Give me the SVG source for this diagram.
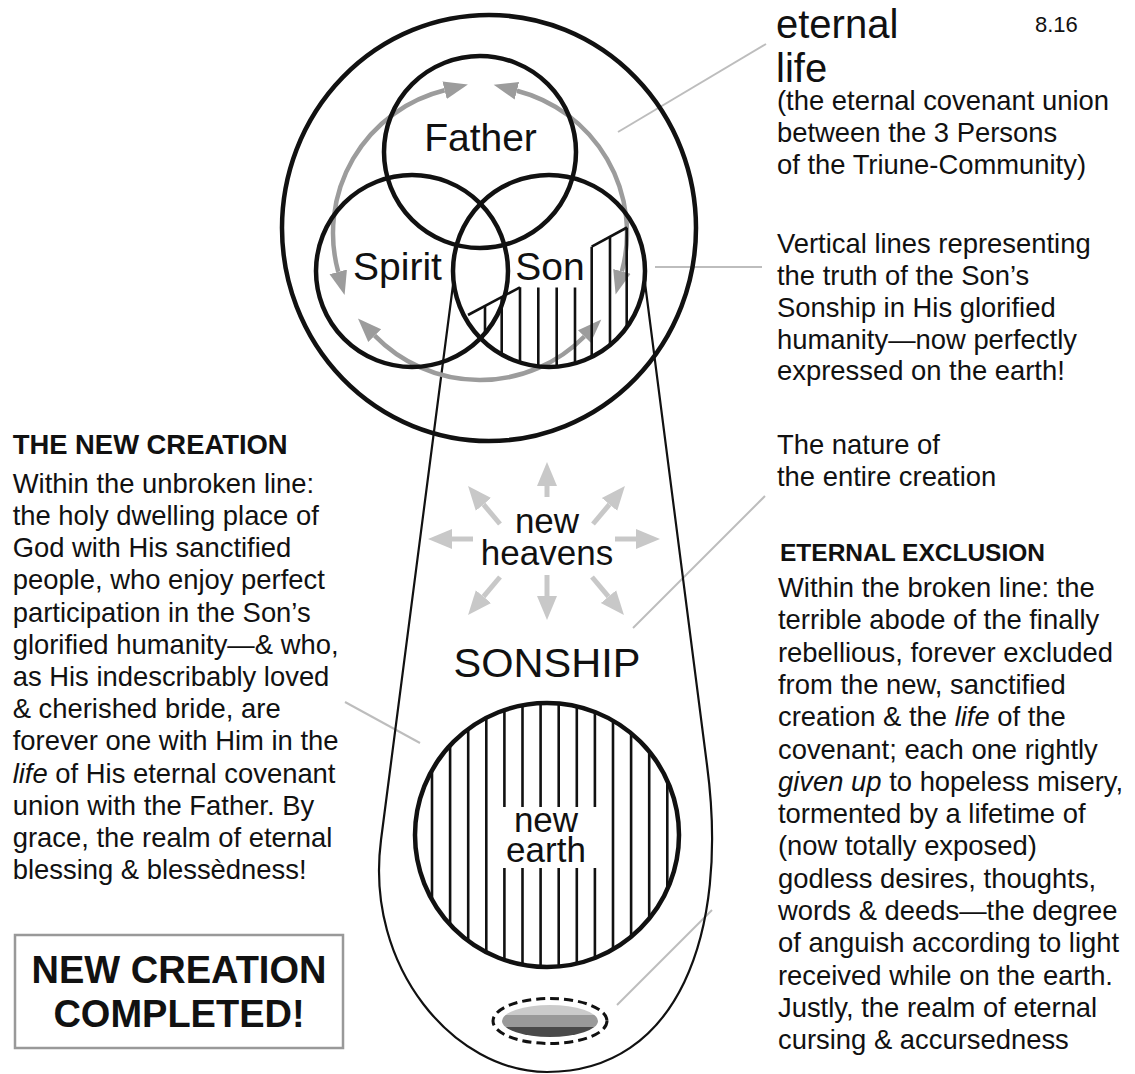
<svg xmlns="http://www.w3.org/2000/svg" width="1135" height="1074" viewBox="0 0 1135 1074">
<defs>
<style>
text{font-family:"Liberation Sans",Arial,Helvetica,sans-serif;fill:#111}
.ln{fill:none;stroke:#111}
.thick{stroke-width:4.5}
.hatch{stroke:#111;stroke-width:2.6}
.leader{stroke:#bdbdbd;stroke-width:2;fill:none}
.garc{fill:none;stroke:#9c9c9c;stroke-width:4.5;marker-start:url(#ga);marker-end:url(#ga)}
.rad{stroke:#c8c8c8;stroke-width:5;fill:none;marker-end:url(#la)}
.body{font-size:27.4px}
.big{font-size:39px}
.mid{font-size:35px}
.head{font-size:27.4px;font-weight:bold}
</style>
<marker id="ga" markerUnits="userSpaceOnUse" markerWidth="26" markerHeight="22" viewBox="0 -11 26 22" refX="0" refY="0" orient="auto-start-reverse"><path d="M0,-9 L24,0 L0,9 z" fill="#9c9c9c"/></marker>
<marker id="la" markerUnits="userSpaceOnUse" markerWidth="26" markerHeight="24" viewBox="0 -12 26 24" refX="0" refY="0" orient="auto"><path d="M0,-10 L24,0 L0,10 z" fill="#c8c8c8"/></marker>
<clipPath id="sonClip"><circle cx="549" cy="271" r="96"/></clipPath>
<clipPath id="earthClip"><circle cx="547" cy="835" r="132"/></clipPath>
<linearGradient id="band" x1="0" y1="0" x2="0" y2="1">
<stop offset="0" stop-color="#cbcbcb"/><stop offset="0.32" stop-color="#cbcbcb"/>
<stop offset="0.32" stop-color="#9a9a9a"/><stop offset="0.68" stop-color="#9a9a9a"/>
<stop offset="0.68" stop-color="#4a4a4a"/><stop offset="1" stop-color="#4a4a4a"/>
</linearGradient>
</defs>
<rect width="1135" height="1074" fill="#fff"/>

<g id="connectors">
<line class="leader" x1="618" y1="132" x2="766" y2="44"/>
<line class="leader" x1="655" y1="267" x2="762" y2="267"/>
<line class="leader" x1="633" y1="628" x2="765" y2="496"/>
<line class="leader" x1="345" y1="702" x2="420" y2="743"/>
<line class="leader" x1="617" y1="1005" x2="712" y2="910"/>
</g>

<g id="funnel">
<path class="ln" stroke-width="2.2" d="M453,285 L381,840 C364.4,968 455,1072 547,1072 C677,1072 729.6,935 707,765 L645,283"/>
</g>

<g id="eternal-life-circle">
<ellipse class="ln thick" cx="489" cy="228" rx="207" ry="213"/>
</g>

<g id="covenant-arcs">
<path class="garc" d="M338.25,271.9 A147,147 0 0 1 444.6,90.3"/>
<path class="garc" d="M516.9,90.7 A147,147 0 0 1 621.9,271.4"/>
<path class="garc" d="M584.4,336.5 A147,147 0 0 1 374.7,335.6"/>
</g>

<g id="son-hatch">
<line class="hatch" x1="468" y1="315" x2="520" y2="287.3"/>
<line class="hatch" x1="591.7" y1="246.7" x2="627" y2="227.5"/>
<g clip-path="url(#sonClip)">
<line class="hatch" x1="485" y1="306" x2="485" y2="333"/>
<line class="hatch" x1="501.7" y1="297" x2="501.7" y2="380"/>
<line class="hatch" x1="520" y1="287.3" x2="520" y2="380"/>
<line class="hatch" x1="538.3" y1="287.5" x2="538.3" y2="380"/>
<line class="hatch" x1="556.7" y1="287.5" x2="556.7" y2="380"/>
<line class="hatch" x1="575" y1="287.5" x2="575" y2="380"/>
<line class="hatch" x1="591.7" y1="246.7" x2="591.7" y2="380"/>
<line class="hatch" x1="610" y1="237" x2="610" y2="380"/>
<line class="hatch" x1="626.7" y1="227.7" x2="626.7" y2="380"/>
</g>
</g>

<g id="father">
<circle class="ln thick" cx="480" cy="152" r="96"/>
<text class="big" x="480.5" y="150.7" text-anchor="middle">Father</text>
</g>
<g id="spirit">
<circle class="ln thick" cx="412" cy="271" r="96"/>
<text class="big" x="397.5" y="280" text-anchor="middle">Spirit</text>
</g>
<g id="son">
<circle class="ln thick" cx="549" cy="271" r="96"/>
<text class="big" x="550" y="280" text-anchor="middle">Son</text>
</g>

<g id="new-heavens">
<line class="rad" x1="547" y1="497" x2="547" y2="486"/>
<line class="rad" x1="547" y1="575" x2="547" y2="596"/>
<line class="rad" x1="473" y1="539" x2="452" y2="539"/>
<line class="rad" x1="615" y1="539" x2="636" y2="539"/>
<line class="rad" x1="500" y1="524" x2="483.5" y2="504.4"/>
<line class="rad" x1="593" y1="524" x2="609.5" y2="504.4"/>
<line class="rad" x1="500" y1="577" x2="483.5" y2="596.6"/>
<line class="rad" x1="592" y1="577" x2="608.5" y2="596.6"/>
<text class="mid" text-anchor="middle"><tspan x="547" y="533">new</tspan><tspan x="547" y="565">heavens</tspan></text>
</g>

<g id="sonship">
<text x="547" y="677" text-anchor="middle" font-size="41.5">SONSHIP</text>
</g>

<g id="new-earth">
<g clip-path="url(#earthClip)">
<line class="hatch" x1="432" y1="700" x2="432" y2="970"/>
<line class="hatch" x1="450.1" y1="700" x2="450.1" y2="970"/>
<line class="hatch" x1="468.2" y1="700" x2="468.2" y2="970"/>
<line class="hatch" x1="486.3" y1="700" x2="486.3" y2="970"/>
<line class="hatch" x1="504.4" y1="700" x2="504.4" y2="807"/><line class="hatch" x1="504.4" y1="868" x2="504.4" y2="970"/>
<line class="hatch" x1="522.5" y1="700" x2="522.5" y2="807"/><line class="hatch" x1="522.5" y1="868" x2="522.5" y2="970"/>
<line class="hatch" x1="540.6" y1="700" x2="540.6" y2="807"/><line class="hatch" x1="540.6" y1="868" x2="540.6" y2="970"/>
<line class="hatch" x1="558.7" y1="700" x2="558.7" y2="807"/><line class="hatch" x1="558.7" y1="868" x2="558.7" y2="970"/>
<line class="hatch" x1="576.8" y1="700" x2="576.8" y2="807"/><line class="hatch" x1="576.8" y1="868" x2="576.8" y2="970"/>
<line class="hatch" x1="594.9" y1="700" x2="594.9" y2="807"/><line class="hatch" x1="594.9" y1="868" x2="594.9" y2="970"/>
<line class="hatch" x1="613" y1="700" x2="613" y2="970"/>
<line class="hatch" x1="631.1" y1="700" x2="631.1" y2="970"/>
<line class="hatch" x1="649.2" y1="700" x2="649.2" y2="970"/>
<line class="hatch" x1="667.3" y1="700" x2="667.3" y2="970"/>
</g>
<circle class="ln thick" cx="547" cy="835" r="132"/>
<text class="mid" text-anchor="middle"><tspan x="546" y="832">new</tspan><tspan x="546" y="862">earth</tspan></text>
</g>

<g id="exclusion-realm">
<ellipse cx="550" cy="1021" rx="57" ry="22.5" fill="none" stroke="#111" stroke-width="3" stroke-dasharray="9 5"/>
<ellipse cx="550" cy="1021" rx="48" ry="16" fill="url(#band)"/>
</g>

<g id="label-eternal-life">
<text font-size="40"><tspan x="776" y="38">eternal</tspan><tspan x="776" y="82">life</tspan></text>
<text x="1035" y="31.7" font-size="22">8.16</text>
<text class="body" x="777" y="110">(the eternal covenant union</text>
<text class="body" x="777" y="142">between the 3 Persons</text>
<text class="body" x="777" y="174">of the Triune-Community)</text>
</g>

<g id="label-vertical-lines">
<text class="body" x="777" y="253">Vertical lines representing</text>
<text class="body" x="777" y="285">the truth of the Son’s</text>
<text class="body" x="777" y="317">Sonship in His glorified</text>
<text class="body" x="777" y="348.5">humanity—now perfectly</text>
<text class="body" x="777" y="380">expressed on the earth!</text>
</g>

<g id="label-nature">
<text class="body" x="777" y="454">The nature of</text>
<text class="body" x="777" y="486">the entire creation</text>
</g>

<g id="label-eternal-exclusion">
<text x="780" y="561" font-size="24.5" font-weight="bold">ETERNAL EXCLUSION</text>
<text class="body" x="778" y="597">Within the broken line: the</text>
<text class="body" x="778" y="629.3">terrible abode of the finally</text>
<text class="body" x="778" y="661.6">rebellious, forever excluded</text>
<text class="body" x="778" y="693.9">from the new, sanctified</text>
<text class="body" x="778" y="726.2">creation &amp; the <tspan font-style="italic">life</tspan> of the</text>
<text class="body" x="778" y="758.5">covenant; each one rightly</text>
<text class="body" x="778" y="790.8"><tspan font-style="italic">given up</tspan> to hopeless misery,</text>
<text class="body" x="778" y="823.1">tormented by a lifetime of</text>
<text class="body" x="778" y="855.4">(now totally exposed)</text>
<text class="body" x="778" y="887.7">godless desires, thoughts,</text>
<text class="body" x="778" y="920">words &amp; deeds—the degree</text>
<text class="body" x="778" y="952.3">of anguish according to light</text>
<text class="body" x="778" y="984.6">received while on the earth.</text>
<text class="body" x="778" y="1016.9">Justly, the realm of eternal</text>
<text class="body" x="778" y="1049.2">cursing &amp; accursedness</text>
</g>

<g id="label-new-creation">
<text class="head" x="12.7" y="454.3">THE NEW CREATION</text>
<text class="body" x="12.7" y="492.7">Within the unbroken line:</text>
<text class="body" x="12.7" y="524.9">the holy dwelling place of</text>
<text class="body" x="12.7" y="557.1">God with His sanctified</text>
<text class="body" x="12.7" y="589.3">people, who enjoy perfect</text>
<text class="body" x="12.7" y="621.5">participation in the Son’s</text>
<text class="body" x="12.7" y="653.7">glorified humanity—&amp; who,</text>
<text class="body" x="12.7" y="685.9">as His indescribably loved</text>
<text class="body" x="12.7" y="718.1">&amp; cherished bride, are</text>
<text class="body" x="12.7" y="750.3">forever one with Him in the</text>
<text class="body" x="12.7" y="782.5"><tspan font-style="italic">life</tspan> of His eternal covenant</text>
<text class="body" x="12.7" y="814.7">union with the Father. By</text>
<text class="body" x="12.7" y="846.9">grace, the realm of eternal</text>
<text class="body" x="12.7" y="879.1">blessing &amp; blessèdness!</text>
</g>

<g id="completed-box">
<rect x="15" y="935" width="328" height="113" fill="none" stroke="#999" stroke-width="2.5"/>
<text x="179" y="983" text-anchor="middle" font-size="38" font-weight="bold">NEW CREATION</text>
<text x="179" y="1027" text-anchor="middle" font-size="38" font-weight="bold">COMPLETED!</text>
</g>
</svg>
